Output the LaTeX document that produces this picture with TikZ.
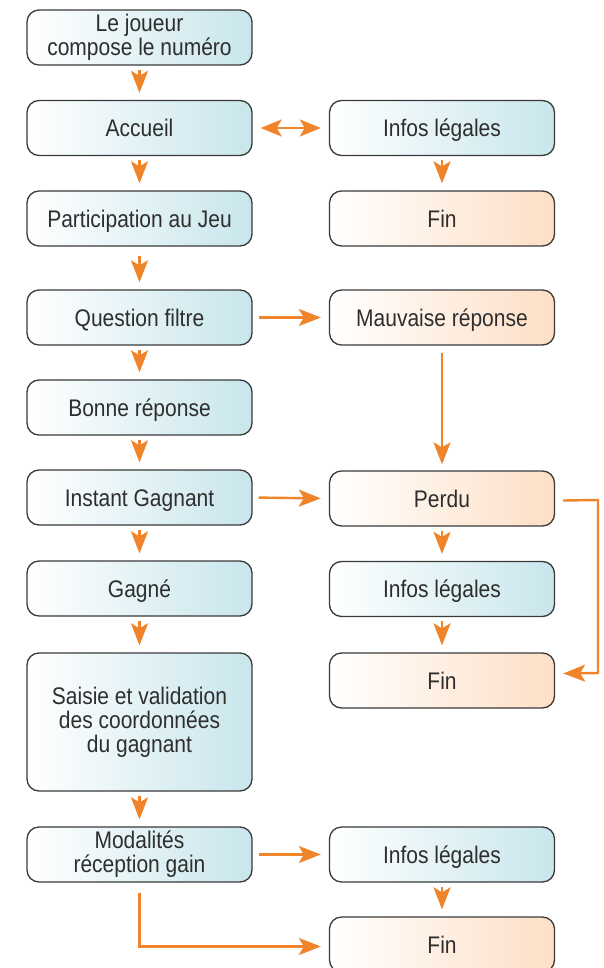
\documentclass[tikz,border=0pt]{standalone}
\usepackage{fontspec}
\setmainfont{Liberation Sans}[FakeStretch=0.875]
\usetikzlibrary{arrows.meta,calc}
\definecolor{arr}{HTML}{F0842A}
\definecolor{bl}{HTML}{C8E6EC}
\definecolor{orl}{HTML}{FDDFC5}
\definecolor{txt}{HTML}{2E2E2E}
\definecolor{edge}{HTML}{3A3A3A}
\begin{document}
\begin{tikzpicture}[x=1pt,y=-1pt,
  box/.style={draw=edge,line width=1.3pt,rounded corners=12pt,minimum width=225pt,minimum height=55pt,
    inner sep=0pt,align=center,text=txt,font=\fontsize{24}{24}\selectfont},
  single/.style={text height=17.5pt,text depth=0pt},
  bluebox/.style={box,left color=white,right color=bl},
  orbox/.style={box,left color=white,right color=orl},
  tip/.style={Stealth[length=22pt,width=17pt,inset=5pt]},
  flow/.style={draw=arr,line width=2.4pt,-{Stealth[length=22pt,width=17pt,inset=5pt]}},
  dflow/.style={draw=arr,line width=2.4pt,{Stealth[length=21pt,width=17pt,inset=5pt]}-{Stealth[length=21pt,width=17pt,inset=5pt]}}]
\useasboundingbox (0,0) rectangle (604,968);
% left column
\node[bluebox] (l1) at (139.5,37.5) {Le joueur\\compose le numéro};
\node[bluebox,single] (l2) at (139.5,128) {Accueil};
\node[bluebox,single] (l3) at (139.5,218.5) {Participation au Jeu};
\node[bluebox,single] (l4) at (139.5,317.5) {Question filtre};
\node[bluebox,single] (l5) at (139.5,407.5) {Bonne réponse};
\node[bluebox,single] (l6) at (139.5,497.5) {Instant Gagnant};
\node[bluebox,single] (l7) at (139.5,588.5) {Gagné};
\node[bluebox,minimum height=138pt] (l8) at (139.5,722) {Saisie et validation\\des coordonnées\\du gagnant};
\node[bluebox] (l9) at (139.5,854.5) {Modalités\\réception gain};
% right column
\node[bluebox,single] (r2) at (442,128) {Infos légales};
\node[orbox,single] (r3) at (442,218.5) {Fin};
\node[orbox,single] (r4) at (442,317.5) {Mauvaise réponse};
\node[orbox,single] (r6) at (442,498.5) {Perdu};
\node[bluebox,single] (r7) at (442,589) {Infos légales};
\node[orbox,single] (r8) at (442,680.5) {Fin};
\node[bluebox,single] (r9) at (442,854.5) {Infos légales};
\node[orbox,single] (r10) at (442,944.5) {Fin};
% vertical short arrows
\foreach \a/\b in {l1/l2,l2/l3,l4/l5,l5/l6,l6/l7,l7/l8,l8/l9,r2/r3,r6/r7,r7/r8,r9/r10}
  \draw[flow,shorten <=4pt,shorten >=7pt] (\a.south) -- (\b.north);
\draw[flow,shorten <=9pt,shorten >=7pt] (l3.south) -- (l4.north);
\draw[flow,shorten <=7pt,shorten >=6pt] (r4.south) -- (r6.north);
% horizontal arrows
\draw[dflow,shorten <=8pt,shorten >=8pt] (l2.east) -- (r2.west);
\draw[flow,shorten <=6pt,shorten >=8pt] (l4.east) -- (r4.west);
\draw[flow,shorten <=6pt,shorten >=8pt] (l6.east) -- (r6.west);
\draw[flow,shorten <=6pt,shorten >=8pt] (l9.east) -- (r9.west);
% loops
\coordinate (p1) at ($(r6.east)+(8,2)$);
\coordinate (p2) at ($(r8.east)+(8,-7)$);
\draw[flow] (p1) -- (598,500) -- (598,673) -- (p2);
\coordinate (m1) at ($(l9.south)+(0,10)$);
\coordinate (m2) at ($(r10.west)+(-8,2)$);
\draw[flow] (m1) |- (m2);
\end{tikzpicture}
\end{document}
